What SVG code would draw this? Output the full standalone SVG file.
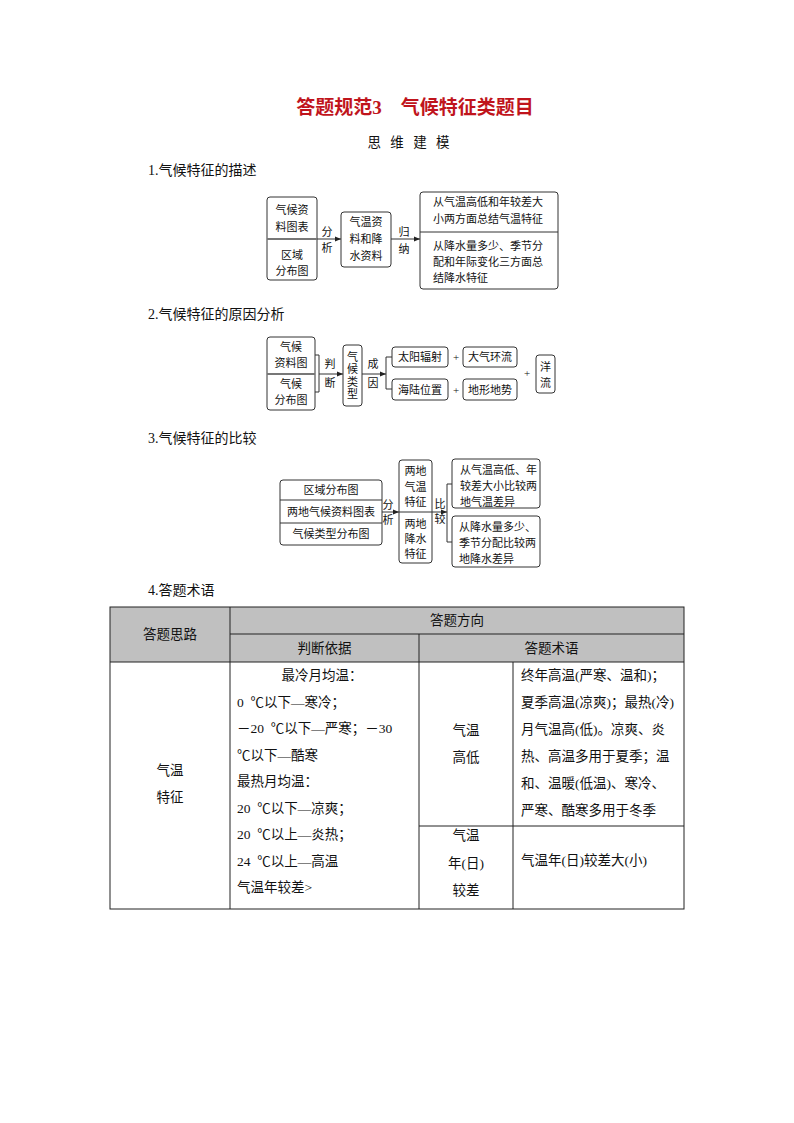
<svg xmlns="http://www.w3.org/2000/svg" width="794" height="1123" viewBox="0 0 794 1123">
<style>
text{font-family:"Liberation Serif","Noto Sans CJK SC",serif;fill:#111}
.t{font-size:19px;font-weight:bold;fill:#c0141c}
.h{font-size:14px}
.s{font-size:11px}
.c{text-anchor:middle}
.tb{font-size:13.5px;white-space:pre}
.box{fill:#fff;stroke:#333;stroke-width:1}
.ln{fill:none;stroke:#333;stroke-width:1}
.dv{stroke:#777;stroke-width:2}
.th{fill:#c0c0c0}
.grid{stroke:#222;stroke-width:1;fill:none}
</style>
<defs>
<marker id="ah" markerWidth="6" markerHeight="6" refX="6" refY="3" orient="auto" markerUnits="userSpaceOnUse">
<path d="M0,0.5 L6,3 L0,5.5 z" fill="#222"/>
</marker>
</defs>
<rect width="794" height="1123" fill="#fff"/>
<text class="t c" x="415" y="114">答题规范3　气候特征类题目</text>
<text class="h c" x="410" y="147" style="font-size:13.5px;letter-spacing:3px">思 维 建 模</text>
<text class="h" x="148" y="175">1.气候特征的描述</text>
<text class="h" x="148" y="319">2.气候特征的原因分析</text>
<text class="h" x="148" y="443">3.气候特征的比较</text>
<text class="h" x="148" y="595">4.答题术语</text>

<g id="connectors">
<line class="ln" x1="317" y1="239" x2="341" y2="239" marker-end="url(#ah)"/>
<line class="ln" x1="391" y1="239" x2="420" y2="239" marker-end="url(#ah)"/>
<polyline class="ln" points="315,355 319,355 319,392 315,392"/>
<line class="ln" x1="319" y1="374" x2="343" y2="374" marker-end="url(#ah)"/>
<line class="ln" x1="362" y1="374" x2="386" y2="374" marker-end="url(#ah)"/>
<polyline class="ln" points="392,357 386,357 386,389 392,389"/>
<line class="ln" x1="382" y1="512" x2="399" y2="512" marker-end="url(#ah)"/>
<line class="ln" x1="432" y1="512" x2="447" y2="512" marker-end="url(#ah)"/>
<polyline class="ln" points="452,484 447,484 447,542 452,542"/>
</g>

<g id="d1-labels">
<text class="s c" x="327" y="236">分</text>
<text class="s c" x="327" y="252">析</text>
<text class="s c" x="404" y="236">归</text>
<text class="s c" x="404" y="253">纳</text>
</g>
<g id="d1-a">
<rect class="box" x="267" y="197" width="50" height="83" rx="3"/>
<line class="dv" x1="267" y1="239" x2="317" y2="239"/>
<text class="s c" x="292" y="214">气候资</text>
<text class="s c" x="292" y="231">料图表</text>
<text class="s c" x="292" y="259">区域</text>
<text class="s c" x="292" y="275">分布图</text>
</g>
<g id="d1-b">
<rect class="box" x="341" y="212" width="50" height="55" rx="3"/>
<text class="s c" x="366" y="226">气温资</text>
<text class="s c" x="366" y="243">料和降</text>
<text class="s c" x="366" y="260">水资料</text>
</g>
<g id="d1-c">
<rect class="box" x="420" y="192" width="138" height="97" rx="3"/>
<line class="ln" x1="420" y1="232" x2="558" y2="232"/>
<text class="s" x="433" y="206">从气温高低和年较差大</text>
<text class="s" x="433" y="223">小两方面总结气温特征</text>
<text class="s" x="433" y="250">从降水量多少、季节分</text>
<text class="s" x="433" y="266">配和年际变化三方面总</text>
<text class="s" x="433" y="282">结降水特征</text>
</g>

<g id="d2-labels">
<text class="s c" x="330" y="368">判</text>
<text class="s c" x="330" y="387">断</text>
<text class="s c" x="373" y="368">成</text>
<text class="s c" x="373" y="387">因</text>
<text class="s c" x="456" y="361">+</text>
<text class="s c" x="456" y="394">+</text>
<text class="s c" x="527" y="377">+</text>
</g>
<g id="d2-a">
<rect class="box" x="267" y="337" width="48" height="73" rx="3"/>
<line class="dv" x1="267" y1="374" x2="315" y2="374"/>
<text class="s c" x="291" y="351">气候</text>
<text class="s c" x="291" y="367">资料图</text>
<text class="s c" x="291" y="388">气候</text>
<text class="s c" x="291" y="404">分布图</text>
</g>
<g id="d2-b">
<rect class="box" x="343" y="345" width="19" height="61" rx="3"/>
<text class="s c" x="352.5" y="361">气</text>
<text class="s c" x="352.5" y="373">候</text>
<text class="s c" x="352.5" y="386">类</text>
<text class="s c" x="352.5" y="398">型</text>
</g>
<g id="d2-sun">
<rect class="box" x="392" y="347" width="56" height="20" rx="3"/>
<text class="s c" x="420" y="361">太阳辐射</text>
</g>
<g id="d2-atm">
<rect class="box" x="463" y="347" width="54" height="20" rx="3"/>
<text class="s c" x="490" y="361">大气环流</text>
</g>
<g id="d2-sea">
<rect class="box" x="392" y="379" width="56" height="21" rx="3"/>
<text class="s c" x="420" y="393.5">海陆位置</text>
</g>
<g id="d2-terrain">
<rect class="box" x="463" y="379" width="54" height="21" rx="3"/>
<text class="s c" x="490" y="393.5">地形地势</text>
</g>
<g id="d2-ocean">
<rect class="box" x="536" y="355" width="19" height="38" rx="3"/>
<text class="s c" x="545.5" y="371">洋</text>
<text class="s c" x="545.5" y="387">流</text>
</g>

<g id="d3-labels">
<text class="s c" x="388" y="509">分</text>
<text class="s c" x="388" y="524">析</text>
<text class="s c" x="440" y="508">比</text>
<text class="s c" x="440" y="523">较</text>
</g>
<g id="d3-a">
<rect class="box" x="280" y="480" width="102" height="65" rx="3"/>
<line class="ln" x1="280" y1="500" x2="382" y2="500"/>
<line class="ln" x1="280" y1="523" x2="382" y2="523"/>
<text class="s c" x="331" y="494">区域分布图</text>
<text class="s c" x="331" y="516">两地气候资料图表</text>
<text class="s c" x="331" y="538">气候类型分布图</text>
</g>
<g id="d3-b">
<rect class="box" x="399" y="460" width="33" height="103" rx="3"/>
<line class="ln" x1="399" y1="512" x2="432" y2="512"/>
<text class="s c" x="415.5" y="475">两地</text>
<text class="s c" x="415.5" y="491">气温</text>
<text class="s c" x="415.5" y="506">特征</text>
<text class="s c" x="415.5" y="528">两地</text>
<text class="s c" x="415.5" y="543">降水</text>
<text class="s c" x="415.5" y="558">特征</text>
</g>
<g id="d3-c1">
<rect class="box" x="452" y="459" width="88" height="49" rx="3"/>
<text class="s" x="460" y="474">从气温高低、年</text>
<text class="s" x="460" y="490">较差大小比较两</text>
<text class="s" x="460" y="506">地气温差异</text>
</g>
<g id="d3-c2">
<rect class="box" x="452" y="516" width="88" height="51" rx="3"/>
<text class="s" x="459" y="531">从降水量多少、</text>
<text class="s" x="459" y="547">季节分配比较两</text>
<text class="s" x="459" y="563">地降水差异</text>
</g>

<g id="table">
<rect class="th" x="110" y="607" width="574" height="55"/>
<rect class="grid" x="110" y="607" width="574" height="302"/>
<line class="grid" x1="230" y1="607" x2="230" y2="909"/>
<line class="grid" x1="230" y1="634" x2="684" y2="634"/>
<line class="grid" x1="110" y1="662" x2="684" y2="662"/>
<line class="grid" x1="419" y1="634" x2="419" y2="909"/>
<line class="grid" x1="513" y1="662" x2="513" y2="909"/>
<line class="grid" x1="419" y1="826" x2="684" y2="826"/>
<text class="tb c" x="170" y="639">答题思路</text>
<text class="tb c" x="457" y="625">答题方向</text>
<text class="tb c" x="324.5" y="653">判断依据</text>
<text class="tb c" x="551.5" y="653">答题术语</text>
<text class="tb c" x="170" y="775">气温</text>
<text class="tb c" x="170" y="802">特征</text>
<text class="tb c" x="322" y="680">最冷月均温：</text>
<text class="tb" x="237" y="707">0&#160;&#160;℃以下—寒冷；</text>
<text class="tb" x="237" y="733">－20&#160;&#160;℃以下—严寒；－30</text>
<text class="tb" x="237" y="760">℃以下—酷寒</text>
<text class="tb" x="237" y="786">最热月均温：</text>
<text class="tb" x="237" y="813">20&#160;&#160;℃以下—凉爽；</text>
<text class="tb" x="237" y="839">20&#160;&#160;℃以上—炎热；</text>
<text class="tb" x="237" y="866">24&#160;&#160;℃以上—高温</text>
<text class="tb" x="237" y="892">气温年较差></text>
<text class="tb c" x="466" y="735">气温</text>
<text class="tb c" x="466" y="762">高低</text>
<text class="tb" x="521" y="680">终年高温(严寒、温和)；</text>
<text class="tb" x="521" y="707">夏季高温(凉爽)；最热(冷)</text>
<text class="tb" x="521" y="734">月气温高(低)。凉爽、炎</text>
<text class="tb" x="521" y="761">热、高温多用于夏季；温</text>
<text class="tb" x="521" y="788">和、温暖(低温)、寒冷、</text>
<text class="tb" x="521" y="815">严寒、酷寒多用于冬季</text>
<text class="tb c" x="466" y="840">气温</text>
<text class="tb c" x="466" y="868">年(日)</text>
<text class="tb c" x="466" y="895">较差</text>
<text class="tb" x="521" y="865">气温年(日)较差大(小)</text>
</g>
</svg>
